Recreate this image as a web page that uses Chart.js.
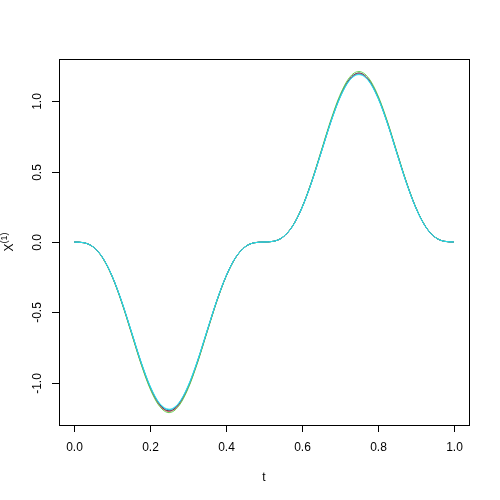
<!DOCTYPE html>
<html>
<head>
<meta charset="utf-8">
<script src="https://cdn.jsdelivr.net/npm/chart.js@4.4.1/dist/chart.umd.min.js"></script>
<style>
  body { margin: 0; background: #ffffff; }
  canvas { display: block; }
</style>
</head>
<body>
<canvas id="myChart" width="500" height="500"></canvas>
<script>
const tValues = [0, 0.025, 0.05, 0.075, 0.1, 0.125, 0.15, 0.175, 0.2, 0.225, 0.25, 0.275, 0.3, 0.325, 0.35, 0.375, 0.4, 0.425, 0.45, 0.475,
                 0.5, 0.525, 0.55, 0.575, 0.6, 0.625, 0.65, 0.675, 0.7, 0.725, 0.75, 0.775, 0.8, 0.825, 0.85, 0.875, 0.9, 0.925, 0.95, 0.975, 1];

const curveBlack = [0, -0.005, -0.035, -0.112, -0.244, -0.424, -0.635, -0.849, -1.032, -1.156, -1.200, -1.156, -1.032, -0.849, -0.635, -0.424, -0.244, -0.112, -0.035, -0.005,
                    0, 0.005, 0.035, 0.112, 0.244, 0.424, 0.635, 0.849, 1.032, 1.156, 1.200, 1.156, 1.032, 0.849, 0.635, 0.424, 0.244, 0.112, 0.035, 0.005, 0];
const curveRed = [0, -0.005, -0.035, -0.113, -0.245, -0.426, -0.638, -0.853, -1.036, -1.160, -1.204, -1.159, -1.035, -0.851, -0.637, -0.425, -0.244, -0.112, -0.035, -0.005,
                  0, 0.005, 0.035, 0.112, 0.243, 0.423, 0.633, 0.847, 1.030, 1.153, 1.197, 1.154, 1.030, 0.848, 0.634, 0.424, 0.244, 0.112, 0.035, 0.005, 0];
const curveGreen = [0, -0.005, -0.036, -0.114, -0.247, -0.429, -0.642, -0.858, -1.043, -1.168, -1.212, -1.167, -1.042, -0.857, -0.641, -0.428, -0.246, -0.113, -0.035, -0.005,
                    0, 0.005, 0.036, 0.113, 0.246, 0.428, 0.642, 0.858, 1.043, 1.168, 1.211, 1.167, 1.042, 0.857, 0.641, 0.428, 0.246, 0.113, 0.036, 0.005, 0];
const curveBlue = [0, -0.005, -0.035, -0.111, -0.243, -0.422, -0.632, -0.845, -1.027, -1.150, -1.192, -1.149, -1.026, -0.844, -0.632, -0.422, -0.243, -0.111, -0.035, -0.005,
                   0, 0.005, 0.035, 0.111, 0.243, 0.422, 0.632, 0.845, 1.027, 1.150, 1.193, 1.150, 1.027, 0.845, 0.632, 0.422, 0.243, 0.111, 0.035, 0.005, 0];
const curveCyan = [0, -0.005, -0.035, -0.111, -0.242, -0.420, -0.629, -0.842, -1.023, -1.146, -1.188, -1.145, -1.022, -0.841, -0.629, -0.420, -0.242, -0.111, -0.035, -0.005,
                   0, 0.005, 0.035, 0.111, 0.242, 0.420, 0.629, 0.842, 1.023, 1.146, 1.189, 1.146, 1.023, 0.842, 0.629, 0.420, 0.242, 0.111, 0.035, 0.005, 0];

const xTicks = [0, 0.2, 0.4, 0.6, 0.8, 1.0];
const yTicks = [-1.0, -0.5, 0, 0.5, 1.0];
const xTitle = "t";
const yTitleMain = "X";
const yTitleSup = "(1)";

const toPoints = (ys) => ys.map((y, i) => ({ x: tValues[i], y: y }));

const makeSet = (ys, color) => ({
  data: toPoints(ys),
  borderColor: color,
  borderWidth: 1,
  pointRadius: 0,
  fill: false,
  cubicInterpolationMode: "monotone",
});

const fontName = "'Liberation Sans', Arial, sans-serif";

const rAxes = {
  id: "rAxes",
  beforeDraw: (chart) => {
    const ctx = chart.ctx;
    ctx.save();
    ctx.fillStyle = "#ffffff";
    ctx.fillRect(0, 0, chart.width, chart.height);
    ctx.restore();
  },
  afterDraw: (chart) => {
    const ctx = chart.ctx;
    const area = chart.chartArea;
    const xs = chart.scales.x;
    const ys = chart.scales.y;
    ctx.save();
    ctx.strokeStyle = "#000000";
    ctx.fillStyle = "#000000";
    ctx.lineWidth = 1;
    ctx.strokeRect(Math.round(area.left) + 0.5, Math.round(area.top) + 0.5,
                   Math.round(area.right - area.left), Math.round(area.bottom - area.top));

    ctx.font = "12px " + fontName;
    ctx.textAlign = "center";
    ctx.textBaseline = "middle";
    xTicks.forEach((v) => {
      const px = Math.round(xs.getPixelForValue(v)) + 0.5;
      ctx.beginPath();
      ctx.moveTo(px, area.bottom);
      ctx.lineTo(px, area.bottom + 7);
      ctx.stroke();
      ctx.fillText(v.toFixed(1), px, area.bottom + 23);
    });
    yTicks.forEach((v) => {
      const py = Math.round(ys.getPixelForValue(v)) + 0.5;
      ctx.beginPath();
      ctx.moveTo(area.left, py);
      ctx.lineTo(area.left - 7, py);
      ctx.stroke();
      ctx.save();
      ctx.translate(area.left - 21, py);
      ctx.rotate(-Math.PI / 2);
      ctx.fillText(v.toFixed(1), 0, 0);
      ctx.restore();
    });

    ctx.fillText(xTitle, (area.left + area.right) / 2, area.bottom + 53);

    // y title with superscript, rotated
    ctx.save();
    ctx.translate(10, (area.top + area.bottom) / 2);
    ctx.rotate(-Math.PI / 2);
    ctx.textAlign = "left";
    ctx.font = "12px " + fontName;
    const mainW = ctx.measureText(yTitleMain).width;
    ctx.font = "9px " + fontName;
    const supW = ctx.measureText(yTitleSup).width;
    const startX = -(mainW + supW) / 2;
    ctx.font = "12px " + fontName;
    ctx.fillText(yTitleMain, startX, 0);
    ctx.font = "9px " + fontName;
    ctx.fillText(yTitleSup, startX + mainW, -5);
    ctx.restore();

    ctx.restore();
  },
};

const ctx = document.getElementById("myChart").getContext("2d");
const myChart = new Chart(ctx, {
  type: "line",
  data: {
    datasets: [
      makeSet(curveCyan, "#28E2E5"),
      makeSet(curveBlue, "#2297E6"),
      makeSet(curveGreen, "#61D04F"),
      makeSet(curveRed, "#DF536B"),
      makeSet(curveBlack, "#000000"),
    ],
  },
  options: {
    responsive: false,
    animation: false,
    layout: { padding: { left: 59, top: 59, right: 31, bottom: 75 } },
    plugins: { legend: { display: false }, tooltip: { enabled: false } },
    scales: {
      x: { type: "linear", min: -0.04, max: 1.04, display: false },
      y: { type: "linear", min: -1.3, max: 1.3, display: false },
    },
  },
  plugins: [rAxes],
});
</script>
</body>
</html>
